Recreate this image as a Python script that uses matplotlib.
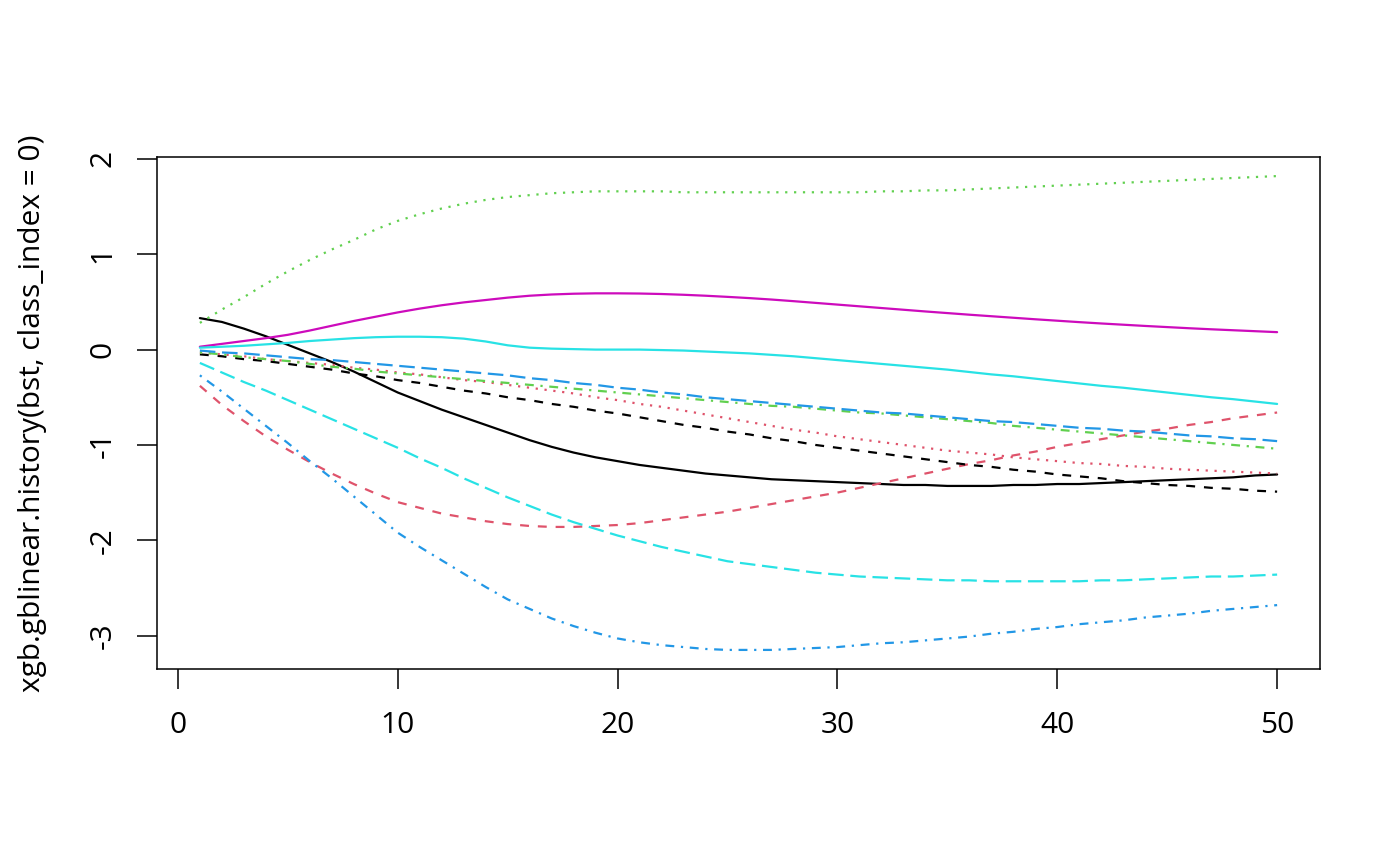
import matplotlib
matplotlib.use("Agg")
import matplotlib.pyplot as plt

plt.rcParams["font.family"] = ["Open Sans", "DejaVu Sans"]

iterations = list(range(1, 51))

black_solid = [0.33, 0.29, 0.22, 0.14, 0.05, -0.04, -0.13, -0.23, -0.34, -0.45,
               -0.54, -0.63, -0.71, -0.79, -0.87, -0.95, -1.02, -1.08, -1.13, -1.17,
               -1.21, -1.24, -1.27, -1.30, -1.32, -1.34, -1.36, -1.37, -1.38, -1.39,
               -1.40, -1.41, -1.42, -1.42, -1.43, -1.43, -1.43, -1.42, -1.42, -1.41,
               -1.41, -1.40, -1.39, -1.38, -1.37, -1.36, -1.35, -1.34, -1.32, -1.31]
red_dashed = [-0.38, -0.58, -0.75, -0.91, -1.05, -1.18, -1.30, -1.41, -1.51, -1.60,
              -1.66, -1.72, -1.76, -1.80, -1.83, -1.85, -1.86, -1.86, -1.85, -1.84,
              -1.82, -1.79, -1.76, -1.73, -1.70, -1.66, -1.62, -1.58, -1.54, -1.50,
              -1.45, -1.40, -1.35, -1.30, -1.25, -1.20, -1.16, -1.11, -1.07, -1.02,
              -0.98, -0.94, -0.90, -0.86, -0.83, -0.79, -0.76, -0.72, -0.69, -0.66]
green_dotted = [0.28, 0.42, 0.55, 0.69, 0.82, 0.94, 1.05, 1.15, 1.26, 1.35,
                1.42, 1.48, 1.53, 1.57, 1.60, 1.62, 1.64, 1.65, 1.66, 1.66,
                1.66, 1.66, 1.65, 1.65, 1.65, 1.65, 1.65, 1.65, 1.65, 1.65,
                1.65, 1.66, 1.66, 1.67, 1.67, 1.68, 1.69, 1.70, 1.71, 1.72,
                1.73, 1.74, 1.75, 1.76, 1.77, 1.78, 1.79, 1.80, 1.81, 1.82]
blue_dotdash = [-0.27, -0.44, -0.62, -0.80, -0.98, -1.17, -1.35, -1.54, -1.73, -1.92,
                -2.07, -2.21, -2.35, -2.49, -2.62, -2.72, -2.82, -2.90, -2.97, -3.03,
                -3.07, -3.10, -3.12, -3.14, -3.15, -3.15, -3.15, -3.14, -3.13, -3.12,
                -3.10, -3.08, -3.07, -3.05, -3.03, -3.01, -2.98, -2.96, -2.93, -2.91,
                -2.88, -2.86, -2.84, -2.81, -2.79, -2.77, -2.74, -2.72, -2.70, -2.68]
cyan_longdash = [-0.14, -0.24, -0.34, -0.43, -0.53, -0.63, -0.73, -0.83, -0.93, -1.03,
                 -1.14, -1.24, -1.35, -1.45, -1.55, -1.64, -1.73, -1.81, -1.88, -1.95,
                 -2.01, -2.07, -2.12, -2.17, -2.22, -2.25, -2.28, -2.31, -2.34, -2.36,
                 -2.38, -2.39, -2.40, -2.41, -2.42, -2.42, -2.43, -2.43, -2.43, -2.43,
                 -2.43, -2.42, -2.42, -2.41, -2.40, -2.39, -2.38, -2.38, -2.37, -2.36]
magenta_solid = [0.03, 0.06, 0.09, 0.12, 0.155, 0.20, 0.25, 0.30, 0.345, 0.39,
                 0.43, 0.465, 0.495, 0.52, 0.545, 0.565, 0.578, 0.586, 0.59, 0.59,
                 0.588, 0.583, 0.575, 0.565, 0.553, 0.54, 0.525, 0.508, 0.49, 0.472,
                 0.454, 0.436, 0.418, 0.40, 0.383, 0.366, 0.35, 0.334, 0.318, 0.303,
                 0.288, 0.274, 0.261, 0.248, 0.236, 0.224, 0.213, 0.203, 0.193, 0.183]
black_dashed = [-0.05, -0.07, -0.10, -0.12, -0.15, -0.18, -0.21, -0.25, -0.28, -0.32,
                -0.35, -0.39, -0.43, -0.46, -0.50, -0.53, -0.57, -0.60, -0.64, -0.67,
                -0.71, -0.75, -0.79, -0.82, -0.86, -0.89, -0.93, -0.96, -1.00, -1.03,
                -1.06, -1.09, -1.12, -1.15, -1.18, -1.21, -1.23, -1.26, -1.28, -1.31,
                -1.33, -1.35, -1.38, -1.40, -1.42, -1.43, -1.45, -1.46, -1.48, -1.49]
red_dotted = [-0.03, -0.05, -0.07, -0.10, -0.12, -0.14, -0.16, -0.19, -0.21, -0.24,
              -0.26, -0.29, -0.32, -0.34, -0.37, -0.40, -0.43, -0.46, -0.50, -0.53,
              -0.57, -0.60, -0.64, -0.68, -0.72, -0.76, -0.80, -0.84, -0.87, -0.91,
              -0.94, -0.97, -1.00, -1.03, -1.06, -1.08, -1.10, -1.13, -1.15, -1.17,
              -1.19, -1.20, -1.22, -1.23, -1.25, -1.26, -1.27, -1.28, -1.29, -1.30]
green_dotdash = [-0.03, -0.05, -0.08, -0.10, -0.12, -0.15, -0.18, -0.20, -0.23, -0.25,
                 -0.27, -0.29, -0.31, -0.33, -0.35, -0.37, -0.39, -0.41, -0.43, -0.45,
                 -0.47, -0.49, -0.51, -0.53, -0.55, -0.57, -0.59, -0.60, -0.62, -0.64,
                 -0.66, -0.67, -0.69, -0.71, -0.73, -0.75, -0.77, -0.80, -0.82, -0.84,
                 -0.86, -0.88, -0.90, -0.92, -0.94, -0.96, -0.98, -1.00, -1.02, -1.04]
blue_longdash = [-0.01, -0.03, -0.04, -0.06, -0.08, -0.10, -0.11, -0.13, -0.15, -0.17,
                 -0.19, -0.21, -0.23, -0.25, -0.27, -0.30, -0.32, -0.35, -0.37, -0.40,
                 -0.42, -0.45, -0.47, -0.50, -0.52, -0.54, -0.56, -0.58, -0.60, -0.62,
                 -0.64, -0.66, -0.67, -0.69, -0.71, -0.73, -0.75, -0.76, -0.78, -0.80,
                 -0.82, -0.83, -0.85, -0.86, -0.88, -0.90, -0.91, -0.93, -0.94, -0.96]
cyan_solid = [0.02, 0.03, 0.04, 0.055, 0.07, 0.09, 0.105, 0.12, 0.13, 0.135,
              0.135, 0.13, 0.115, 0.085, 0.045, 0.02, 0.01, 0.005, 0.00, 0.00,
              0.00, -0.005, -0.01, -0.02, -0.03, -0.04, -0.055, -0.07, -0.09, -0.11,
              -0.13, -0.15, -0.17, -0.19, -0.21, -0.235, -0.26, -0.28, -0.305, -0.33,
              -0.355, -0.38, -0.40, -0.425, -0.45, -0.475, -0.50, -0.52, -0.545, -0.57]

series = [black_solid, red_dashed, green_dotted, blue_dotdash, cyan_longdash,
          magenta_solid, black_dashed, red_dotted, green_dotdash, blue_longdash,
          cyan_solid]

# R default palette and matplot line types
palette = ["#000000", "#DF536B", "#61D04F", "#2297E6", "#28E2E5", "#CD0BBC"]
lty = [None, (4, 4), (1, 3), (1, 3, 4, 3), (7, 3)]

fig = plt.figure(figsize=(14, 8.66), dpi=100)
ax = fig.add_axes([0.112, 0.2275, 0.831, 0.5912])

for i, ys in enumerate(series):
    line, = ax.plot(iterations, ys, color=palette[i % 6], lw=1.6,
                    solid_capstyle="round", dash_capstyle="butt")
    if lty[i % 5] is not None:
        line.set_dashes(lty[i % 5])

ax.set_xlim(-0.96, 51.96)
ax.set_ylim(-3.35, 2.02)
ax.set_xticks([0, 10, 20, 30, 40, 50])
ax.set_yticks([-3, -2, -1, 0, 1, 2])
ax.set_yticklabels(["-3", "-2", "-1", "0", "1", "2"], rotation=90, va="center")
ax.tick_params(axis="both", direction="out", length=14.4, width=1.1,
               labelsize=21.5, color="black")
ax.tick_params(axis="x", pad=16)
ax.tick_params(axis="y", pad=14)
for sp in ax.spines.values():
    sp.set_linewidth(1.1)

ax.set_ylabel("xgb.gblinear.history(bst, class_index = 0)", fontsize=21.5, labelpad=30)

fig.savefig("out.png", dpi=100)
